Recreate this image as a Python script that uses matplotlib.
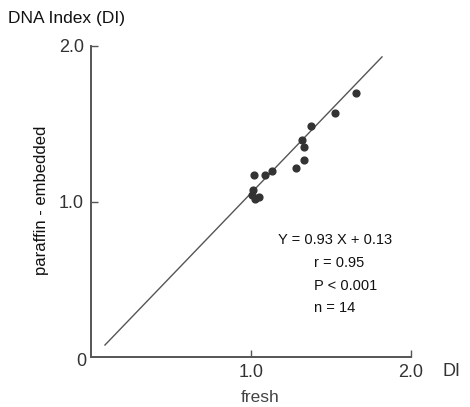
import matplotlib
matplotlib.use("Agg")
import matplotlib.pyplot as plt

# DNA index: fresh (x) vs paraffin-embedded (y)
fresh = [1.657, 1.525, 1.376, 1.319, 1.332, 1.332, 1.282,
         1.132, 1.088, 1.020, 1.014, 1.007, 1.026, 1.051]
paraffin = [1.70, 1.57, 1.485, 1.395, 1.35, 1.267, 1.215,
            1.196, 1.170, 1.170, 1.074, 1.04, 1.015, 1.03]

# regression line as drawn
line_x = [0.089, 1.819]
line_y = [0.077, 1.93]

tick_vals = [1.0, 2.0]
tick_labels = ["1.0", "2.0"]
stats = ["r = 0.95", "P < 0.001", "n = 14"]

plt.rcParams['font.family'] = ['Liberation Sans', 'DejaVu Sans']

W, H = 470, 407
fig = plt.figure(figsize=(W / 100, H / 100), dpi=100)
ax = fig.add_axes([90.7 / W, (H - 357) / H, (411 - 90.7) / W, (357 - 46) / H])

ax.plot(line_x, line_y, color='#555555', lw=1.0)
ax.scatter(fresh, paraffin, s=24, color='#333333', zorder=3)

ax.set_xlim(0, 2.0)
ax.set_ylim(0, 2.0)
for side in ['top', 'right']:
    ax.spines[side].set_visible(False)
for side in ['left', 'bottom']:
    ax.spines[side].set_color('#555555')
    ax.spines[side].set_linewidth(1.4)

ax.set_xticks(tick_vals)
ax.set_xticklabels(tick_labels)
ax.set_yticks(tick_vals)
ax.set_yticklabels(tick_labels)
ax.tick_params(direction='in', length=5, width=1, color='#555555',
               labelsize=13, labelcolor='#333333', pad=5)

# origin label and axis labels
fig.text(81 / W, 1 - 361 / H, "0", fontsize=13, color='#333333',
         ha='center', va='center')
fig.text(451 / W, 1 - 372 / H, "DI", fontsize=13, color='#333333',
         ha='center', va='center')
fig.text(260 / W, 1 - 397 / H, "fresh", fontsize=12.5, color='#444444',
         ha='center', va='center')
fig.text(42 / W, 1 - 200 / H, "paraffin - embedded", fontsize=12,
         color='#111111', rotation=90, ha='center', va='center')
fig.text(8 / W, 1 - 18 / H, "DNA Index (DI)", fontsize=12.5,
         color='#111111', ha='left', va='center')

# regression statistics
fig.text(335 / W, 1 - 240 / H, "Y = 0.93 X + 0.13", fontsize=10.5,
         color='#111111', ha='center', va='center')
for i, s in enumerate(stats):
    fig.text(314 / W, 1 - (263 + 22.5 * i) / H, s, fontsize=10.5,
             color='#111111', ha='left', va='center')

fig.savefig("out.png", dpi=100)
